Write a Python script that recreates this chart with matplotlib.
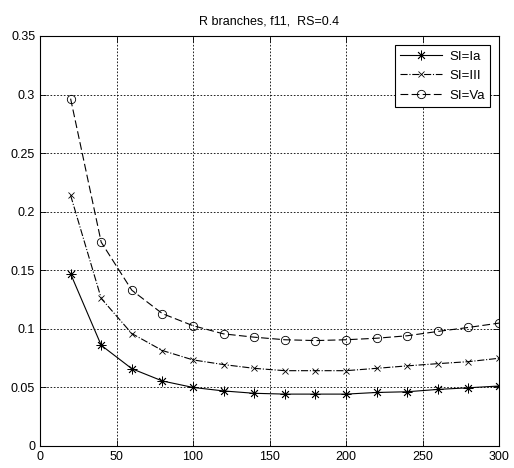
import matplotlib
matplotlib.use("Agg")
import matplotlib.pyplot as plt

plt.rcParams['font.family'] = ['Liberation Sans', 'DejaVu Sans']

x = [20, 40, 60, 80, 100, 120, 140, 160, 180, 200, 220, 240, 260, 280, 300]
si_ia = [0.147, 0.086, 0.066, 0.0555, 0.050, 0.047, 0.045, 0.0443, 0.0443, 0.0443,
         0.0457, 0.0463, 0.0483, 0.0497, 0.0512]
si_iii = [0.214, 0.126, 0.096, 0.0815, 0.0735, 0.0695, 0.0663, 0.0643, 0.0643, 0.0643,
          0.0663, 0.0684, 0.0703, 0.072, 0.0749]
si_va = [0.2965, 0.174, 0.133, 0.113, 0.1027, 0.0957, 0.0929, 0.0907, 0.090, 0.0907,
         0.092, 0.0941, 0.0978, 0.1012, 0.1049]
labels = ['SI=Ia', 'SI=III', 'SI=Va']
title = 'R branches, f11,  RS=0.4'

fig = plt.figure(figsize=(5.14, 4.68), dpi=100)
ax = fig.add_axes([40/514, 22/468, 459/514, 410/468])

ax.plot(x, si_ia, color='black', linestyle='-', linewidth=0.8, marker=(8, 2, 0),
        markersize=7, markeredgewidth=0.6, label=labels[0])
ax.plot(x, si_iii, color='black', linestyle='-.', linewidth=0.8, marker='x',
        markersize=5, markeredgewidth=0.6, label=labels[1])
ax.plot(x, si_va, color='black', linestyle=(0, (7, 3)), linewidth=0.8, marker='o',
        markersize=6, markerfacecolor='none', markeredgewidth=0.6, label=labels[2])

ax.set_xlim(0, 300)
ax.set_ylim(0, 0.35)
ax.set_xticks([0, 50, 100, 150, 200, 250, 300])
ax.set_yticks([0, 0.05, 0.1, 0.15, 0.2, 0.25, 0.3, 0.35])
ax.set_yticklabels(['0', '0.05', '0.1', '0.15', '0.2', '0.25', '0.3', '0.35'])
ax.grid(True, color='black', linestyle=(0, (2, 2)), linewidth=0.6)
ax.tick_params(direction='in', top=True, right=True, labelsize=9, length=4, width=0.6)
for s in ax.spines.values():
    s.set_linewidth(0.8)

ax.set_title(title, fontsize=9, pad=8)

leg = ax.legend(loc='upper right', bbox_to_anchor=(0.980, 0.978), borderaxespad=0,
                fancybox=False, framealpha=1, edgecolor='black', fontsize=9.5,
                handlelength=3.2, handletextpad=0.5, labelspacing=0.55)
leg.get_frame().set_linewidth(0.8)

fig.savefig('out.png', dpi=100)
